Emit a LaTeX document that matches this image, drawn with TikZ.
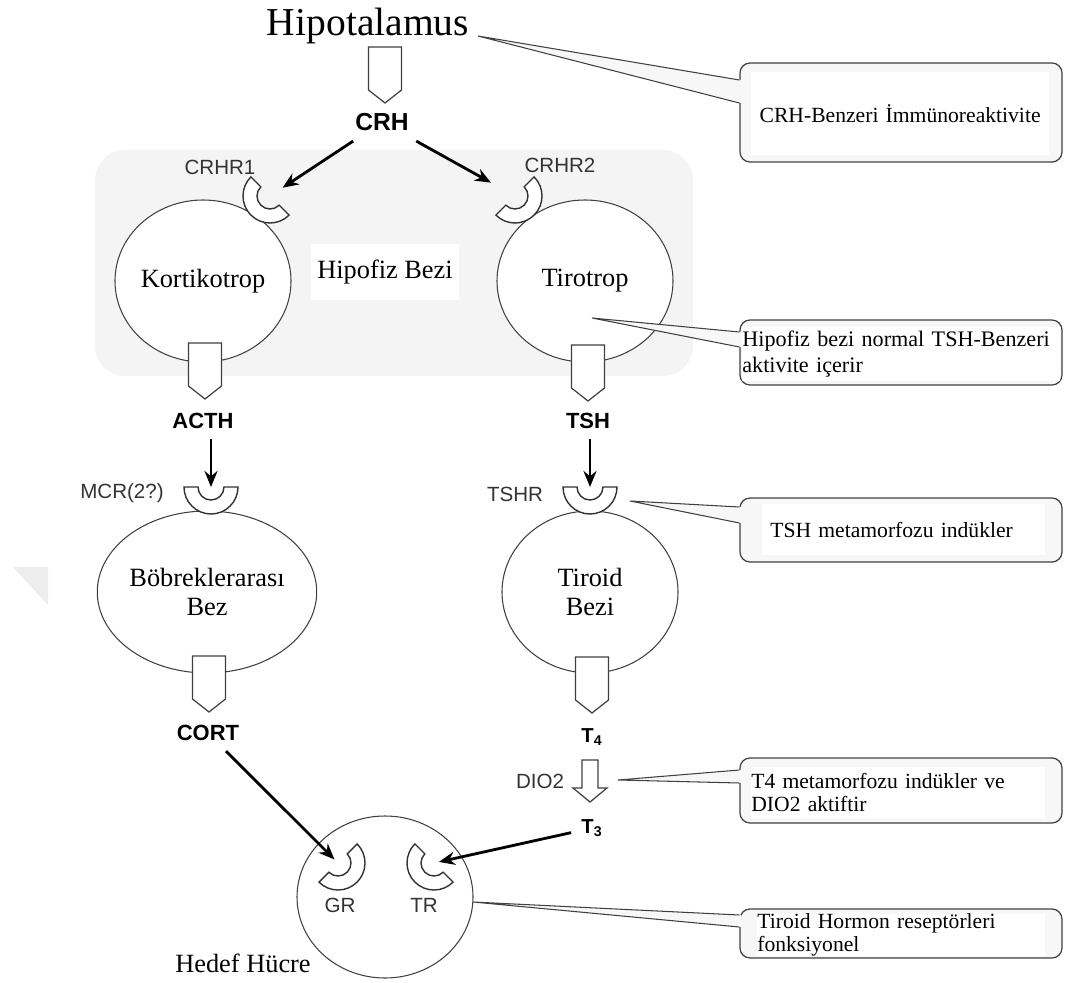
\documentclass[tikz,border=0pt]{standalone}
\usepackage{fontspec}
\setmainfont{Liberation Serif}
\setsansfont{Liberation Sans}
\usetikzlibrary{positioning, shapes.geometric, arrows.meta, calc}
\definecolor{glandLine}{HTML}{404040}
\definecolor{lobeGray}{HTML}{F4F4F4}
\definecolor{calloutFill}{HTML}{F7F7F7}

\tikzset{
  gland/.style={ellipse, draw=glandLine, line width=0.6pt, fill=white, minimum width=35.2mm, minimum height=32.4mm, inner sep=0pt, align=center, font=\fontsize{15}{16}\selectfont},
  hormone/.style={inner sep=2mm, font=\sffamily\bfseries\fontsize{12.5}{14}\selectfont},
  receptorlabel/.style={inner sep=0pt, text=black!80, font=\sffamily\fontsize{11.7}{13}\selectfont},
  hormoneflow/.style={-{Stealth[length=3.2mm,width=2.6mm]}, line width=1.6pt},
  callbox/.style={draw=glandLine, line width=0.7pt, rounded corners=2mm, fill=calloutFill, minimum width=64.4mm},
  calltext/.style={fill=white, anchor=west, align=left, inner xsep=0pt, inner ysep=0pt, font=\fontsize{12.3}{14.5}\selectfont},
  tail/.style={draw=glandLine, line width=0.6pt},
  secretion/.pic={\draw[glandLine, line width=0.7pt, fill=white] (-16.5,0) -- (16.5,0) -- (16.5,43) -- (0,56) -- (-16.5,43) -- cycle;},
  conversion/.pic={\draw[glandLine, line width=0.7pt, fill=white] (-8,0) -- (8,0) -- (8,28) -- (17,28) -- (0,42) -- (-17,28) -- (-8,28) -- cycle;},
  cup/.pic={\draw[black!80, line width=0.8pt, fill=white] (-27,0) arc[start angle=180, end angle=0, radius=27] -- (13,0) arc[start angle=0, end angle=180, radius=13] -- cycle;},
}

\begin{document}
\begin{tikzpicture}[x=0.2mm, y=-0.2mm]
\useasboundingbox (0,0) rectangle (1078,983);

% pituitary region
\fill[lobeGray, rounded corners=6mm] (95,150) rectangle (693,376);
\node[fill=white, minimum width=29mm, minimum height=11mm, font=\fontsize{15}{16}\selectfont] (hipofiz) at (385,272) {Hipofiz Bezi};
\fill[black!7] (13,567) -- (48,567) -- (48,605) -- cycle;

% glands and target cell
\node[gland] (kort) at (203,281) {Kortikotrop};
\node[gland] (tiro) at (585,281) {Tirotrop};
\node[gland] (bobrek) at (207,592) {Böbreklerarası\\Bez};
\node[gland] (tiroid) at (590,592) {Tiroid\\Bezi};
\node[gland] (hedef) at (385,897) {};
\node[font=\fontsize{15}{16}\selectfont] (hedeflbl) at (243,963) {Hedef Hücre};

% secretion arrows
\pic at (385,47) {secretion};
\pic at (205,343) {secretion};
\pic at (588,345) {secretion};
\pic at (209,656) {secretion};
\pic at (592,657) {secretion};
\pic at (590,760) {conversion};

% hormones
\node[font=\fontsize{22.5}{26}\selectfont] (hipo) at (368,26) {Hipotalamus};
\node[hormone, font=\sffamily\bfseries\fontsize{14}{16}\selectfont] (crh) at (382,122) {CRH};
\node[hormone] (acth) at (203,421) {ACTH};
\node[hormone] (tsh) at (588,421) {TSH};
\node[hormone] (cort) at (208,733) {CORT};
\node[hormone, font=\sffamily\bfseries\fontsize{11.5}{13}\selectfont] (tfour) at (592,737) {T\textsubscript{4}};
\node[hormone, font=\sffamily\bfseries\fontsize{11.5}{13}\selectfont] (tthree) at (592,828) {T\textsubscript{3}};

% receptors
\coordinate (crhrone) at (270,196);
\coordinate (crhrtwo) at (515,196);
\coordinate (mcr) at (211,487);
\coordinate (tshr) at (590,487);
\coordinate (gr) at (338,863);
\coordinate (tr) at (434,863);
\pic[rotate=-45] at (crhrone) {cup};
\pic[rotate=45] at (crhrtwo) {cup};
\pic at (mcr) {cup};
\pic at (tshr) {cup};
\pic[rotate=45] at (gr) {cup};
\pic[rotate=-45] at (tr) {cup};

\node[receptorlabel] (crhronelbl) at (220,167) {CRHR1};
\node[receptorlabel] (crhrtwolbl) at (560,165) {CRHR2};
\node[receptorlabel] (mcrlbl) at (122,493) {MCR(2?)};
\node[receptorlabel] (tshrlbl) at (515,494) {TSHR};
\node[receptorlabel] (diolbl) at (540,781) {DIO2};
\node[receptorlabel] (grlbl) at (340,905) {GR};
\node[receptorlabel] (trlbl) at (424,905) {TR};

% hormone flow
\draw[hormoneflow, shorten >=3mm] (crh) -- (crhrone);
\draw[hormoneflow, shorten >=5.5mm] (crh) -- (crhrtwo);
\draw[hormoneflow] (acth.south -| mcr) -- (mcr);
\draw[hormoneflow] (tsh.south -| tshr) -- (tshr);
\draw[hormoneflow, shorten >=1mm] (cort) -- (gr);
\draw[hormoneflow, shorten >=1mm] (tthree) -- (tr);

% callouts
\coordinate (tipa) at (478,36);
\coordinate (tipb) at (592,318);
\coordinate (tipc) at (630,501);
\coordinate (tipd) at (618,780);
\coordinate (tipe) at (473,902);
\node[callbox, minimum height=19.8mm] (boxa) at (901,112.5) {};
\node[callbox, minimum height=13mm] (boxb) at (901,352.5) {};
\node[callbox, minimum height=12.8mm] (boxc) at (901,530) {};
\node[callbox, minimum height=13mm] (boxd) at (901,790.5) {};
\node[callbox, minimum height=9.8mm] (boxe) at (901,933.5) {};
\foreach \tp/\bx/\ya/\yb in {tipa/boxa/-32.5/-9.5, tipb/boxb/-20.5/-5.5, tipc/boxc/-23/-7, tipd/boxd/-20.5/-7.5, tipe/boxe/-18.5/-6.5} {
  \fill[calloutFill] (\tp) -- ($(\bx.west)+(1.5,\ya)$) -- ($(\bx.west)+(1.5,\yb)$) -- cycle;
  \draw[tail] ($(\bx.west)+(0,\ya)$) -- (\tp) -- ($(\bx.west)+(0,\yb)$);
}
\node[calltext, text width=59.5mm, minimum height=16.6mm, align=center] (txta) at (751,113.5) {CRH-Benzeri İmmünoreaktivite};
\node[calltext, text width=63.6mm, minimum height=10.8mm, font=\fontsize{12.6}{15}\selectfont] (txtb) at (742,354) {Hipofiz bezi normal TSH-Benzeri\\aktivite içerir};
\node[calltext, text width=56.6mm, minimum height=10.2mm] (txtc) at (762,529.5) {\hspace*{1.6mm}TSH metamorfozu indükler};
\node[calltext, text width=58.8mm, minimum height=10.2mm, font=\fontsize{12.3}{13.5}\selectfont] (txtd) at (751,792.5) {T4 metamorfozu indükler ve\\DIO2 aktiftir};
\node[calltext, text width=57.6mm, font=\fontsize{12.3}{13.2}\selectfont] (txte) at (757,935) {Tiroid Hormon reseptörleri\\fonksiyonel};
\end{tikzpicture}
\end{document}
